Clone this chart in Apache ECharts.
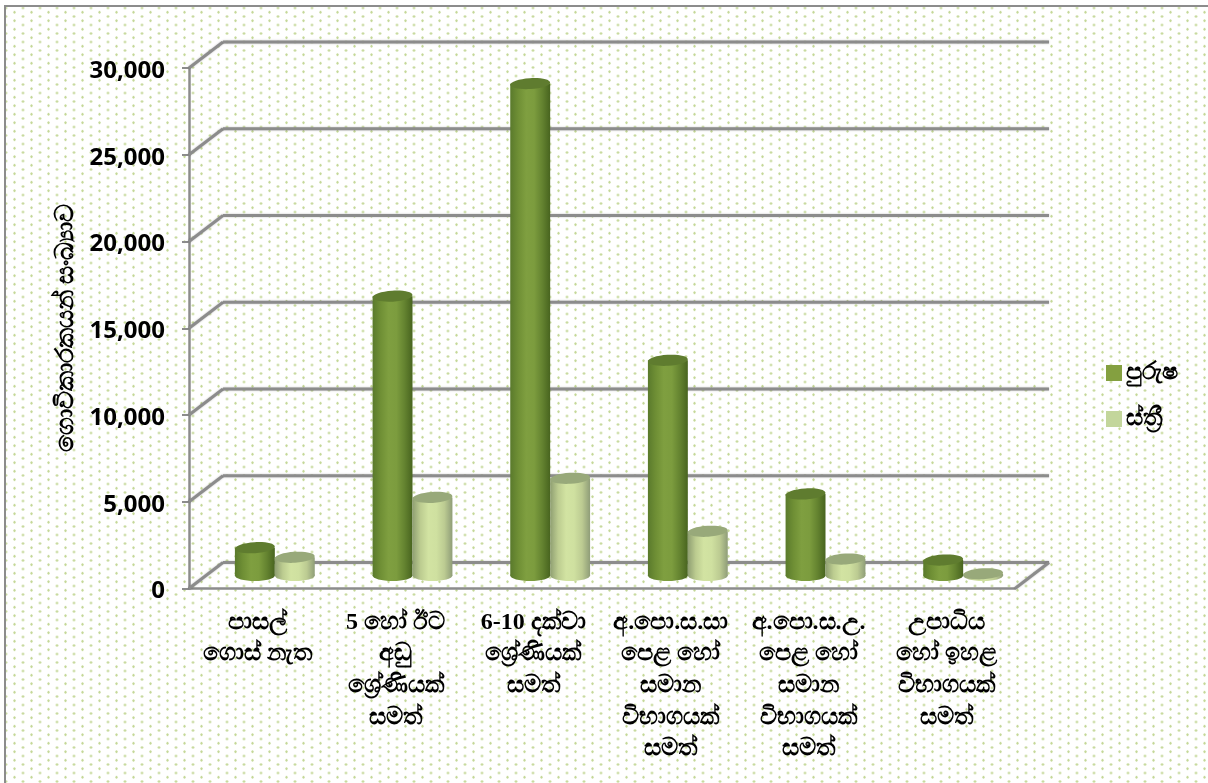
<!DOCTYPE html>
<html><head><meta charset="utf-8">
<script src="https://cdn.jsdelivr.net/npm/echarts@6/dist/echarts.min.js"></script>
<style>
html,body{margin:0;padding:0;background:#fff;width:1208px;height:783px;overflow:hidden}
#bg{position:absolute;left:4px;top:5px;width:1300px;height:900px;border-left:2px solid #8c8c8c;border-top:2px solid #8c8c8c;
background-image:radial-gradient(circle,#c3d796 0,#c3d796 0.9px,rgba(195,215,150,0) 1.5px),radial-gradient(circle,#c3d796 0,#c3d796 0.9px,rgba(195,215,150,0) 1.5px);
background-size:17px 8.5px,17px 8.5px;background-position:-8.5px -3.25px,0 1px}
#c{position:absolute;left:0;top:0;width:1208px;height:783px}
</style></head><body><div id="bg"></div><div id="c"></div>
<script>
const categories=['පාසල්\nගොස් නැත','5 හෝ ඊට\nඅඩු\nශ්‍රේණියක්\nසමත්','6-10 දක්වා\nශ්‍රේණියක්\nසමත්','අ.පො.ස.සා\nපෙළ හෝ\nසමාන\nවිභාගයක්\nසමත්','අ.පො.ස.උ.\nපෙළ හෝ\nසමාන\nවිභාගයක්\nසමත්','උපාධිය\nහෝ ඉහළ\nවිභාගයක්\nසමත්'];
const maleName='පුරුෂ';
const femaleName='ස්ත්‍රී';
const yAxisName='ගොවිකාරකයන් සංඛ්‍යාව';
const male=[1600,16100,28350,12400,4700,890];
const female=[1050,4500,5600,2550,950,100];
const yTicks=[0,5000,10000,15000,20000,25000,30000];

const DX=34,DY=26,GRAY='#8c8c8c';
const serif='"Liberation Serif","Noto Sans",serif';
function vgrad(stops){return {type:'linear',x:0,y:0,x2:1,y2:0,colorStops:stops.map((c,i)=>({offset:i/(stops.length-1),color:c}))};}
const maleSide=vgrad(['#5a7a2c','#6f8f35','#7f9f40','#7c9c3e','#648330','#48641f']);
const femaleSide=vgrad(['#8f9f72','#bccc90','#d2e3a2','#cfe0a0','#bccb92','#8f9d78']);
function cylinder(side,top,off){
  return function(params,api){
    const c=api.coord([api.value(0),api.value(1)]);
    const b=api.coord([api.value(0),0]);
    const band=api.size([1,0])[0];
    const r=band*0.145, ry=5.5;
    const x=c[0]+DX/2+off*band, yt=c[1]-DY/2, yb=b[1]-DY/2;
    return {type:'group',children:[
      {type:'ellipse',shape:{cx:x,cy:yb,rx:r,ry:ry},style:{fill:side}},
      {type:'rect',shape:{x:x-r,y:yt,width:2*r,height:yb-yt},style:{fill:side}},
      {type:'ellipse',x:x,y:yt,rotation:0.06,shape:{cx:0,cy:0,rx:r,ry:ry},style:{fill:top}}
    ]};
  };
}
function frame(params,api){
  const cs=params.coordSys, y=api.coord([0,api.value(0)])[1];
  const x0=cs.x, x1=cs.x+cs.width;
  const st={stroke:GRAY,lineWidth:3,shadowColor:'rgba(0,0,0,0.25)',shadowBlur:2};
  const kids=[
    {type:'line',shape:{x1:x0,y1:y,x2:x0+DX,y2:y-DY},style:st},
    {type:'line',shape:{x1:x0+DX,y1:y-DY,x2:x1+DX,y2:y-DY},style:st}
  ];
  if(api.value(0)===0) kids.push({type:'line',shape:{x1:x1,y1:y,x2:x1+DX,y2:y-DY},style:st});
  return {type:'group',children:kids};
}
const chart=echarts.init(document.getElementById('c'),null,{renderer:'canvas'});
chart.setOption({
  backgroundColor:'transparent',animation:false,
  grid:{left:189,top:68,width:826,height:520.5,containLabel:false},
  legend:{data:[{name:maleName,icon:'rect'},{name:femaleName,icon:'rect'}],orient:'vertical',left:1101,top:356,itemWidth:16,itemHeight:16,itemGap:22,
    textStyle:{fontFamily:serif,fontWeight:700,fontSize:24,color:'#000',padding:[0,0,0,-1]},selectedMode:false},
  xAxis:{type:'category',data:categories,
    axisLine:{lineStyle:{color:GRAY,width:2.5}},axisTick:{show:false},
    axisLabel:{interval:0,margin:18,color:'#000',fontFamily:serif,fontWeight:700,fontSize:24,lineHeight:31.7,verticalAlign:'top'}},
  yAxis:{type:'value',min:0,max:30000,interval:5000,name:yAxisName,nameLocation:'middle',nameGap:108,nameRotate:90,
    nameTextStyle:{color:'#000',fontFamily:serif,fontWeight:700,fontSize:25},
    axisLine:{show:true,lineStyle:{color:GRAY,width:2.5}},
    axisTick:{show:true,length:7,lineStyle:{color:GRAY,width:2}},
    splitLine:{show:false},
    axisLabel:{margin:24,color:'#000',fontFamily:'"Open Sans",sans-serif',fontWeight:700,fontSize:24,verticalAlign:'top',lineHeight:6,
      formatter:v=>v.toLocaleString('en-US')}},
  series:[
    {type:'custom',name:'frame',z:1,silent:true,renderItem:frame,data:yTicks.map(v=>[v]),encode:{y:0},clip:false},
    {type:'custom',name:maleName,z:3,renderItem:cylinder(maleSide,'#5f7c2f',-0.145),itemStyle:{color:'#84a040'},
      data:male.map((v,i)=>[i,v]),encode:{x:0,y:1},clip:false},
    {type:'custom',name:femaleName,z:4,renderItem:cylinder(femaleSide,'#98a97a',0.145),itemStyle:{color:'#c3d69b'},
      data:female.map((v,i)=>[i,v]),encode:{x:0,y:1},clip:false}
  ]
});
</script></body></html>
